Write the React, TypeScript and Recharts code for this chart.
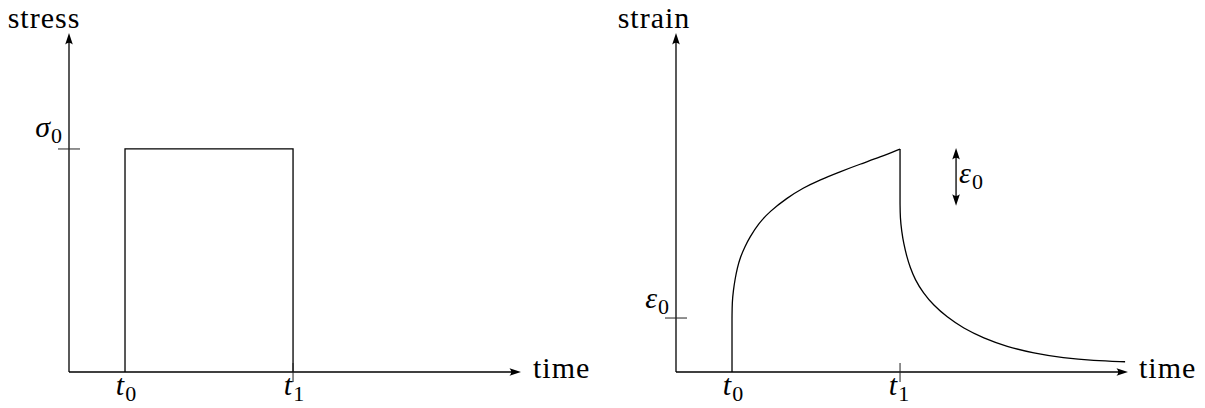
import React from 'react';
import { ComposedChart, Line, XAxis, YAxis, ReferenceLine, ReferenceDot } from 'recharts';

// Time axis: t0 = 1, t1 = 4 (arbitrary units)
const T0 = 1;
const T1 = 4;
const T_MAX = 8.07;

// Stress panel (sigma0 = 1)
const SIGMA0 = 1;
const STRESS_MAX = 1.52;
const STRESS_PULSE = [
  { t: 1, v: 0 },
  { t: 1, v: 1 },
  { t: 4, v: 1 },
  { t: 4, v: 0 },
];

// Strain panel (eps0 = 1)
const EPS0 = 1;
const STRAIN_MAX = 6.28;
const INSTANT_JUMP = [
  { t: 1, v: 0 },
  { t: 1, v: 1 },
];
const CREEP = [
  { t: 1.0, v: 1.0 },
  { t: 1.003, v: 1.3 },
  { t: 1.023, v: 1.5 },
  { t: 1.054, v: 1.72 },
  { t: 1.095, v: 1.93 },
  { t: 1.143, v: 2.11 },
  { t: 1.232, v: 2.33 },
  { t: 1.321, v: 2.5 },
  { t: 1.464, v: 2.74 },
  { t: 1.679, v: 2.98 },
  { t: 1.977, v: 3.22 },
  { t: 2.268, v: 3.41 },
  { t: 2.571, v: 3.56 },
  { t: 2.929, v: 3.71 },
  { t: 3.286, v: 3.85 },
  { t: 3.643, v: 3.98 },
  { t: 4.0, v: 4.13 },
];
const INSTANT_DROP = [
  { t: 4, v: 4.13 },
  { t: 4, v: 3.13 },
];
const RECOVERY = [
  { t: 4.0, v: 3.13 },
  { t: 4.003, v: 2.85 },
  { t: 4.03, v: 2.6 },
  { t: 4.065, v: 2.38 },
  { t: 4.12, v: 2.14 },
  { t: 4.179, v: 1.94 },
  { t: 4.268, v: 1.71 },
  { t: 4.416, v: 1.46 },
  { t: 4.595, v: 1.24 },
  { t: 4.834, v: 1.02 },
  { t: 5.13, v: 0.81 },
  { t: 5.487, v: 0.63 },
  { t: 5.905, v: 0.47 },
  { t: 6.38, v: 0.35 },
  { t: 6.916, v: 0.26 },
  { t: 7.452, v: 0.21 },
  { t: 8.018, v: 0.19 },
];
// Bracket marking the recoverable elastic part (eps0) next to the drop
const EPS_BRACKET_T = 5.0;
const EPS_BRACKET = [4.15, 3.08];

const W = 600;
const H = 408;
const MARGIN = { top: 33, right: 79, bottom: 36, left: 69 };
const INK = '#000';
const LW = 1.3;

const HEAD = 'M0,0 L-11.5,-3.8 Q-8,0 -11.5,3.8 Z';

function Head({ x, y, angle }: { x: number; y: number; angle: number }) {
  return <path d={HEAD} fill={INK} transform={`translate(${x},${y}) rotate(${angle})`} />;
}

function ArrowLine(props: any) {
  const { x1, y1, x2, y2, both } = props;
  const a = (Math.atan2(y2 - y1, x2 - x1) * 180) / Math.PI;
  const len = Math.hypot(x2 - x1, y2 - y1);
  const ux = (x2 - x1) / len;
  const uy = (y2 - y1) / len;
  const sx = both ? x1 + ux * 6 : x1;
  const sy = both ? y1 + uy * 6 : y1;
  return (
    <g>
      <line x1={sx} y1={sy} x2={x2 - ux * 6} y2={y2 - uy * 6} stroke={INK} strokeWidth={LW} />
      <Head x={x2} y={y2} angle={a} />
      {both ? <Head x={x1} y={y1} angle={a + 180} /> : null}
    </g>
  );
}

// Plain word label placed relative to a data point
const word = (text: string, dx: number, dy: number, anchor: string) => (p: any) => (
  <text
    x={p.cx + dx}
    y={p.cy + dy}
    textAnchor={anchor}
    style={{ fontFamily: 'Liberation Serif', fontSize: 30, letterSpacing: 1 }}
  >
    {text}
  </text>
);

// Italic symbol with an upright subscript
const sym = (base: string, sub: string, dx: number, dy: number, anchor: string) => (p: any) => (
  <text x={p.cx + dx} y={p.cy + dy} textAnchor={anchor} style={{ fontFamily: 'Liberation Serif', fontSize: 30 }}>
    <tspan fontStyle="italic">{base}</tspan>
    <tspan fontSize={22} dy={6} dx={1}>
      {sub}
    </tspan>
  </text>
);

const hTick = (p: any) => <line x1={p.cx - 11} y1={p.cy} x2={p.cx + 11} y2={p.cy} stroke="#222" strokeWidth={1} />;
const vTick = (p: any) => <line x1={p.cx} y1={p.cy - 9} x2={p.cx} y2={p.cy + 10} stroke="#222" strokeWidth={1} />;
const arrow = (p: any) => <ArrowLine {...p} />;
const doubleArrow = (p: any) => <ArrowLine {...p} both />;

function StressPanel() {
  return (
    <ComposedChart width={W} height={H} margin={MARGIN}>
      <XAxis type="number" dataKey="t" domain={[0, T_MAX]} hide allowDataOverflow />
      <YAxis type="number" dataKey="v" domain={[0, STRESS_MAX]} hide allowDataOverflow />
      <ReferenceLine segment={[{ x: 0, y: 0 }, { x: T_MAX, y: 0 }]} ifOverflow="visible" shape={arrow} />
      <ReferenceLine segment={[{ x: 0, y: 0 }, { x: 0, y: STRESS_MAX }]} ifOverflow="visible" shape={arrow} />
      <Line data={STRESS_PULSE} dataKey="v" type="linear" stroke={INK} strokeWidth={LW} dot={false} isAnimationActive={false} />
      <ReferenceDot x={0} y={SIGMA0} r={0} ifOverflow="visible" shape={hTick} />
      <ReferenceDot x={T1} y={0} r={0} ifOverflow="visible" shape={vTick} />
      <ReferenceDot x={0} y={STRESS_MAX} r={0} ifOverflow="visible" shape={word('stress', -25, -5, 'middle')} />
      <ReferenceDot x={T_MAX} y={0} r={0} ifOverflow="visible" shape={word('time', 12, 6, 'start')} />
      <ReferenceDot x={0} y={SIGMA0} r={0} ifOverflow="visible" shape={sym('σ', '0', -7, -12, 'end')} />
      <ReferenceDot x={T0} y={0} r={0} ifOverflow="visible" shape={sym('t', '0', 1, 23, 'middle')} />
      <ReferenceDot x={T1} y={0} r={0} ifOverflow="visible" shape={sym('t', '1', 1, 23, 'middle')} />
    </ComposedChart>
  );
}

function StrainPanel() {
  return (
    <ComposedChart width={W} height={H} margin={MARGIN}>
      <XAxis type="number" dataKey="t" domain={[0, T_MAX]} hide allowDataOverflow />
      <YAxis type="number" dataKey="v" domain={[0, STRAIN_MAX]} hide allowDataOverflow />
      <ReferenceLine segment={[{ x: 0, y: 0 }, { x: T_MAX, y: 0 }]} ifOverflow="visible" shape={arrow} />
      <ReferenceLine segment={[{ x: 0, y: 0 }, { x: 0, y: STRAIN_MAX }]} ifOverflow="visible" shape={arrow} />
      <ReferenceLine
        segment={[{ x: EPS_BRACKET_T, y: EPS_BRACKET[1] }, { x: EPS_BRACKET_T, y: EPS_BRACKET[0] }]}
        ifOverflow="visible"
        shape={doubleArrow}
      />
      <Line data={INSTANT_JUMP} dataKey="v" type="linear" stroke={INK} strokeWidth={LW} dot={false} isAnimationActive={false} />
      <Line data={CREEP} dataKey="v" type="basis" stroke={INK} strokeWidth={LW} dot={false} isAnimationActive={false} />
      <Line data={INSTANT_DROP} dataKey="v" type="linear" stroke={INK} strokeWidth={LW} dot={false} isAnimationActive={false} />
      <Line data={RECOVERY} dataKey="v" type="basis" stroke={INK} strokeWidth={LW} dot={false} isAnimationActive={false} />
      <ReferenceDot x={0} y={EPS0} r={0} ifOverflow="visible" shape={hTick} />
      <ReferenceDot x={T1} y={0} r={0} ifOverflow="visible" shape={vTick} />
      <ReferenceDot x={0} y={STRAIN_MAX} r={0} ifOverflow="visible" shape={word('strain', -22, -5, 'middle')} />
      <ReferenceDot x={T_MAX} y={0} r={0} ifOverflow="visible" shape={word('time', 11, 6, 'start')} />
      <ReferenceDot x={0} y={EPS0} r={0} ifOverflow="visible" shape={sym('ε', '0', -7, -10, 'end')} />
      <ReferenceDot x={T0} y={0} r={0} ifOverflow="visible" shape={sym('t', '0', 1, 23, 'middle')} />
      <ReferenceDot x={T1} y={0} r={0} ifOverflow="visible" shape={sym('t', '1', -1, 23, 'middle')} />
      <ReferenceDot
        x={EPS_BRACKET_T}
        y={(EPS_BRACKET[0] + EPS_BRACKET[1]) / 2}
        r={0}
        ifOverflow="visible"
        shape={sym('ε', '0', 3, 6, 'start')}
      />
    </ComposedChart>
  );
}

export default function App() {
  return (
    <div style={{ display: 'flex', width: 1207, height: 408, margin: '-8px 0 0 -8px', background: '#fff' }}>
      <StressPanel />
      <div style={{ width: 7 }} />
      <StrainPanel />
    </div>
  );
}
